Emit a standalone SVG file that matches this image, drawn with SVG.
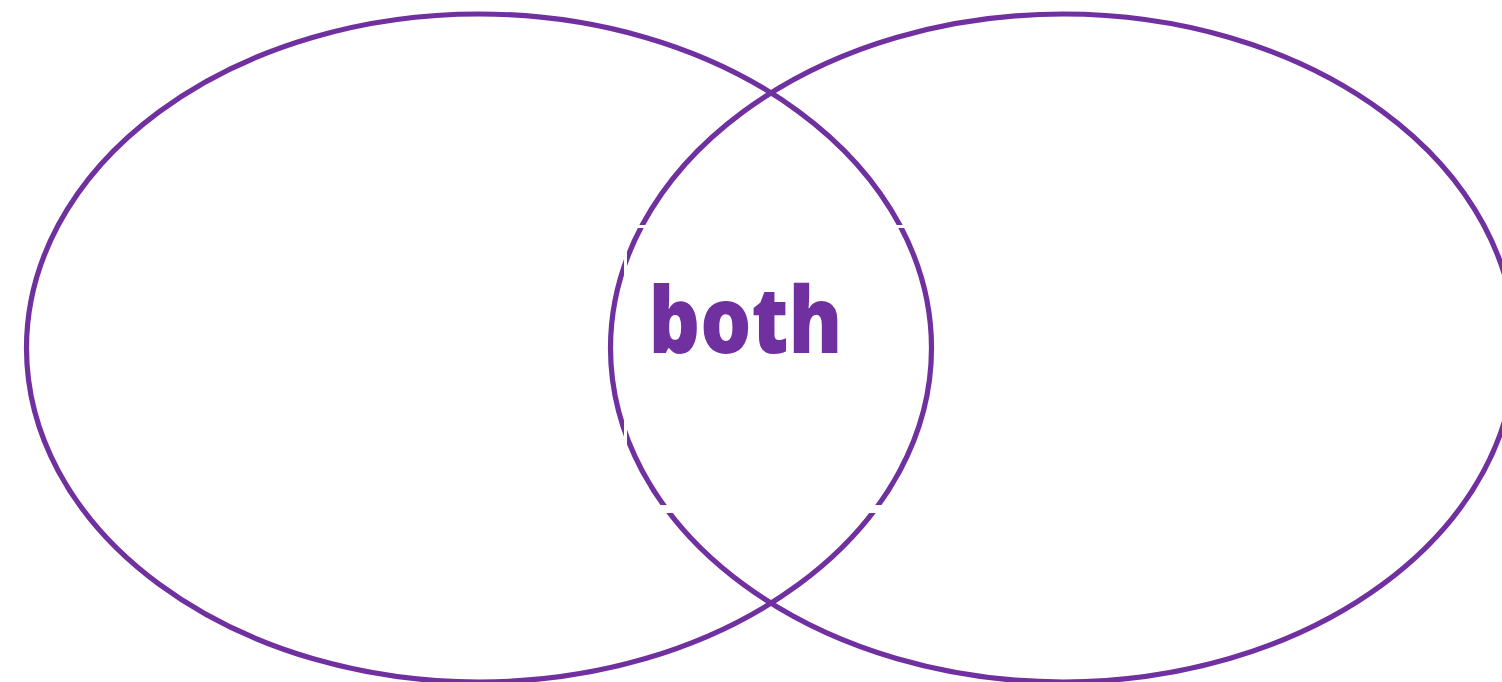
<svg xmlns="http://www.w3.org/2000/svg" width="1502" height="682" viewBox="0 0 1502 682">
  <style>
    .set { fill: none; stroke: #7030A0; stroke-width: 5.2; }
    .mask { fill: none; stroke: #FFFFFF; }
    .label { font-family: "Open Sans", "Noto Sans", "Liberation Sans", sans-serif; font-weight: 800; font-size: 92px; fill: #7030A0; }
  </style>
  <rect x="0" y="0" width="1502" height="682" fill="#FFFFFF"/>
  <g id="set-left">
    <ellipse class="set" cx="479" cy="348" rx="452.5" ry="334"/>
  </g>
  <g id="set-right">
    <ellipse class="set" cx="1063" cy="348" rx="452.5" ry="334"/>
  </g>
  <g id="overlap">
    <path class="mask" stroke-width="3" d="M625.5 226.5 H905"/>
    <path class="mask" stroke-width="3" d="M625.5 226 V513"/>
    <path class="mask" stroke-width="8" d="M624 509 H895"/>
    <text class="label" x="745.5" y="353" text-anchor="middle" textLength="194" lengthAdjust="spacingAndGlyphs">both</text>
  </g>
  <g id="connectors"/>
</svg>
